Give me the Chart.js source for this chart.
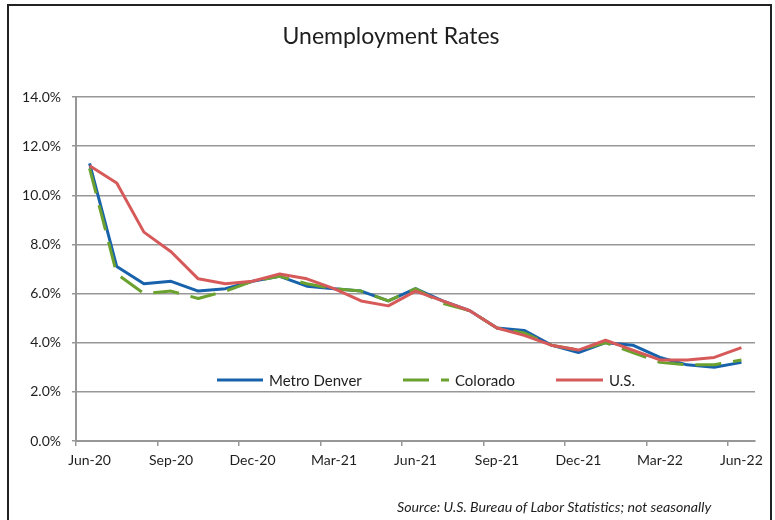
<!DOCTYPE html>
<html>
<head>
<meta charset="utf-8">
<title>Unemployment Rates</title>
<script src="https://cdn.jsdelivr.net/npm/chart.js@4.4.1/dist/chart.umd.min.js"></script>
<style>
  html, body { margin: 0; padding: 0; background: #fff; }
  #wrap { position: relative; width: 775px; height: 520px; overflow: hidden; }
  #frame { position: absolute; left: 7px; top: 4px; width: 765px; height: 600px; border: 2px solid #222; box-sizing: border-box; }
  #chart { position: absolute; left: 0; top: 0; }
</style>
</head>
<body>
<div id="wrap">
  <div id="frame"></div>
  <canvas id="chart" width="775" height="520"></canvas>
</div>
<script>
// months Jun-20 .. Jun-22
const months = ['Jun-20', 'Jul-20', 'Aug-20', 'Sep-20', 'Oct-20', 'Nov-20', 'Dec-20',
  'Jan-21', 'Feb-21', 'Mar-21', 'Apr-21', 'May-21', 'Jun-21', 'Jul-21', 'Aug-21',
  'Sep-21', 'Oct-21', 'Nov-21', 'Dec-21', 'Jan-22', 'Feb-22', 'Mar-22', 'Apr-22',
  'May-22', 'Jun-22'];

const metroDenver = [11.3, 7.1, 6.4, 6.5, 6.1, 6.2, 6.5, 6.7, 6.3, 6.2, 6.1, 5.7, 6.2,
  5.7, 5.3, 4.6, 4.5, 3.9, 3.6, 4.0, 3.9, 3.4, 3.1, 3.0, 3.2];
const colorado = [11.1, 6.8, 6.0, 6.1, 5.8, 6.1, 6.5, 6.7, 6.4, 6.2, 6.1, 5.7, 6.2,
  5.6, 5.3, 4.6, 4.4, 3.9, 3.7, 4.0, 3.6, 3.2, 3.1, 3.1, 3.3];
const us = [11.2, 10.5, 8.5, 7.7, 6.6, 6.4, 6.5, 6.8, 6.6, 6.2, 5.7, 5.5, 6.1,
  5.7, 5.3, 4.6, 4.3, 3.9, 3.7, 4.1, 3.7, 3.3, 3.3, 3.4, 3.8];

const seriesNames = ['Metro Denver', 'Colorado', 'U.S.'];
const chartTitle = 'Unemployment Rates';
const sourceNote = 'Source: U.S. Bureau of Labor Statistics; not seasonally';

const gridGray = '#979797';
const textColor = '#1e1e1e';

// legend sits inside the plot, drawn by hand like the Excel original
const overlay = {
  id: 'overlay',
  afterDatasetsDraw(chart) {
    const ctx = chart.ctx;
    ctx.save();
    ctx.fillStyle = textColor;
    ctx.textBaseline = 'middle';

    ctx.font = '23px Lato';
    ctx.textAlign = 'center';
    ctx.fillText(chartTitle, 391, 37);

    const legendX = [[217, 263], [403, 449], [556, 603]];
    const legendY = 380;
    ctx.font = '15px Lato';
    ctx.textAlign = 'left';
    chart.data.datasets.forEach((ds, i) => {
      const [x0, x1] = legendX[i];
      ctx.save();
      ctx.strokeStyle = ds.borderColor;
      ctx.lineWidth = ds.borderWidth;
      ctx.setLineDash(ds.borderDash || []);
      ctx.beginPath();
      ctx.moveTo(x0, legendY);
      ctx.lineTo(x1, legendY);
      ctx.stroke();
      ctx.restore();
      ctx.fillText(ds.label, x1 + 6, legendY + 1);
    });

    ctx.font = 'italic 14.2px Lato';
    ctx.fillText(sourceNote, 397, 507);
    ctx.restore();
  }
};

new Chart(document.getElementById('chart'), {
  type: 'line',
  data: {
    labels: months,
    datasets: [
      {
        label: seriesNames[0],
        data: metroDenver,
        borderColor: '#1862ac',
        borderWidth: 3,
        order: 3
      },
      {
        label: seriesNames[1],
        data: colorado,
        borderColor: '#6ba12f',
        borderWidth: 3,
        borderDash: [26, 12],
        order: 2
      },
      {
        label: seriesNames[2],
        data: us,
        borderColor: '#d75a5a',
        borderWidth: 3,
        order: 1
      }
    ]
  },
  options: {
    responsive: false,
    animation: false,
    layout: { padding: { top: 97, right: 20, left: 0, bottom: 0 } },
    elements: {
      point: { radius: 0 },
      line: { tension: 0, borderCapStyle: 'butt', borderJoinStyle: 'round' }
    },
    scales: {
      x: {
        type: 'category',
        offset: true,
        afterFit: (scale) => { scale.height = 79; },
        grid: {
          offset: true,
          drawOnChartArea: false,
          drawTicks: true,
          tickLength: 5,
          lineWidth: 1.5,
          color: (c) => (c.index % 3 === 0 ? gridGray : 'transparent')
        },
        border: { display: true, color: gridGray, width: 2 },
        ticks: {
          autoSkip: false,
          maxRotation: 0,
          padding: 6,
          color: textColor,
          font: { family: 'Lato', size: 14 },
          callback: function (value, index) {
            return index % 3 === 0 ? this.getLabelForValue(value) : '';
          }
        }
      },
      y: {
        min: 0,
        max: 14,
        afterFit: (scale) => { scale.width = 76; },
        grid: {
          color: gridGray,
          lineWidth: 1.5,
          drawTicks: true,
          tickLength: 4
        },
        border: { display: true, color: gridGray, width: 2 },
        ticks: {
          stepSize: 2,
          padding: 11,
          color: textColor,
          font: { family: 'Lato', size: 14 },
          callback: (v) => v.toFixed(1) + '%'
        }
      }
    },
    plugins: {
      legend: { display: false },
      title: { display: false },
      tooltip: { enabled: false }
    }
  },
  plugins: [overlay]
});
</script>
</body>
</html>
